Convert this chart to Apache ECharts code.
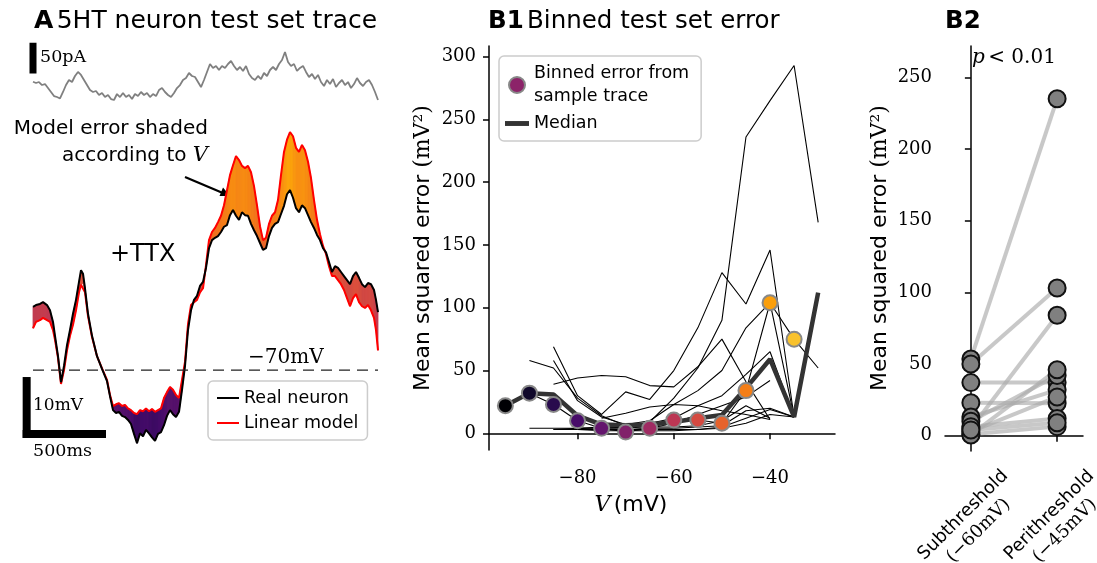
<!DOCTYPE html>
<html><head><meta charset="utf-8">
<script src="https://cdn.jsdelivr.net/npm/echarts@6/dist/echarts.min.js"></script>
<style>html,body{margin:0;padding:0;background:#fff}#c{width:1097px;height:563px}</style>
</head><body><div id="c"></div>
<script>
// ---------- Panel A data ----------
const timeMs = [0,18,42,60,84,102,120,132,150,168,186,204,222,240,258,276,288,300,312,330,354,384,414,444,462,
480,498,516,534,552,570,588,606,624,642,660,678,696,714,732,750,768,786,804,822,840,858,876,894,912,930,948,966,984,
1002,1020,1038,1056,1074,1092,1110,1128,1146,1164,1182,1200,1218,1236,1254,1272,1290,1308,1326,1344,1362,1380,1398,
1416,1434,1452,1470,1488,1506,1524,1542,1560,1578,1596,1614,1632,1650,1668,1686,1704,1722,1740,1758,1776,1794,1812,
1830,1848,1866,1884,1902,1920,1938,1956,1974,1992,2010,2028,2046,2058,2070];
const realV = [-59.1,-58.8,-58.6,-58.3,-58.8,-59.7,-61.7,-64.1,-67.6,-72.1,-69.3,-65.7,-63.1,-60.3,-57.9,-54.8,-52.8,-53.4,-55.9,-60.3,
-64.1,-67.6,-69.8,-71.9,-74.5,-76.9,-77.4,-77.2,-77.9,-78.1,-78.6,-79.3,-81.0,-82.6,-80.9,-81.4,-80.3,-80.9,-81.6,-82.2,
-81.0,-80.7,-79.5,-77.9,-76.9,-77.6,-78.1,-77.2,-73.4,-69.3,-63.1,-59.7,-57.9,-57.2,-55.5,-54.8,-52.4,-49.0,-47.6,-47.2,
-46.9,-46.2,-45.3,-45.0,-43.3,-42.4,-43.4,-44.1,-42.8,-43.3,-43.4,-44.8,-45.9,-46.9,-48.1,-49.3,-49.0,-46.9,-45.5,-44.8,
-44.5,-43.1,-41.7,-39.7,-39.0,-40.3,-42.1,-42.8,-41.6,-42.1,-43.3,-44.5,-45.5,-46.7,-47.6,-49.0,-49.7,-51.4,-53.1,-52.1,
-52.4,-53.1,-53.8,-54.5,-55.2,-53.8,-53.1,-54.1,-55.2,-55.7,-55.0,-55.2,-56.2,-57.9,-60.0];
const modelV = [-62.8,-61.7,-61.4,-61.0,-61.4,-61.7,-63.1,-64.8,-67.9,-72.4,-70.0,-66.6,-64.1,-62.2,-59.7,-56.6,-55.3,-55.0,-56.6,-60.7,
-64.3,-67.6,-69.7,-71.7,-74.3,-76.2,-75.9,-75.7,-76.2,-76.0,-76.6,-76.9,-77.4,-77.6,-76.9,-77.1,-76.6,-77.1,-76.7,-77.2,
-76.9,-76.6,-74.8,-73.8,-72.9,-73.4,-74.3,-74.8,-71.7,-68.6,-62.1,-58.8,-58.3,-57.9,-56.6,-55.9,-51.9,-47.6,-46.2,-45.5,
-44.5,-43.4,-41.6,-39.0,-36.4,-34.7,-33.1,-33.8,-34.8,-35.2,-34.8,-35.9,-38.3,-41.6,-45.2,-47.6,-47.2,-44.8,-43.4,-42.8,
-40.7,-36.4,-32.4,-30.3,-29.0,-29.7,-31.7,-32.4,-31.2,-32.1,-34.1,-36.9,-40.7,-44.1,-46.6,-48.6,-50.0,-52.1,-53.8,-53.8,
-54.5,-55.2,-56.2,-57.6,-59.0,-57.6,-56.9,-58.3,-59.0,-59.3,-58.8,-59.7,-61.0,-63.1,-66.6];
const currentT = [0,18,36,54,72,90,108,126,144,162,180,198,216,234,252,270,288,306,324,342,360,378,396,414,432,450,468,486,504,522,
540,558,576,594,612,630,648,666,684,702,720,738,756,774,792,810,828,846,864,882,900,918,936,954,972,990,1008,1026,1044,1062,
1080,1098,1116,1134,1152,1170,1188,1206,1224,1242,1260,1278,1296,1314,1332,1350,1368,1386,1404,1422,1440,1458,1476,1494,1512,
1530,1548,1566,1584,1602,1620,1638,1656,1674,1692,1710,1728,1746,1764,1782,1800,1818,1836,1854,1872,1890,1908,1926,1944,1962,
1980,1998,2016,2034,2052,2070];
const currentPA = [29.9,27.8,29.4,24.5,26.1,19.6,13.1,6.5,4.9,2.5,
13.1,24.5,32.7,29.4,39.2,45.8,40.9,32.7,24.5,16.3,
13.1,14.7,8.2,11.4,4.9,8.2,1.6,0,9.8,4.9,
11.4,4.9,8.2,1.6,9.8,6.5,13.1,8.2,11.4,4.9,
9.8,6.5,16.3,19.6,13.1,8.2,4.9,11.4,19.6,24.5,
32.7,35.9,44.1,39.2,37.6,29.4,21.2,32.7,45.8,58.8,
52.3,55.6,49.0,55.6,52.3,58.8,63.7,55.6,49.0,53.9,
47.4,55.6,42.5,35.9,32.7,39.2,34.3,44.1,39.2,49.0,
53.9,49.0,58.8,65.4,78.4,62.1,55.6,58.8,47.4,52.3,
55.6,45.8,37.6,42.5,34.3,40.9,29.4,22.9,32.7,26.1,
34.3,21.2,27.8,32.7,24.5,29.4,19.6,26.1,35.9,27.8,
22.9,29.4,32.7,24.5,13.1,0];
const restV = -70;
const scaleMV = 10, scaleMs = 500, scalePA = 50;

// ---------- Panel B1 data ----------
const binsV = [-95,-90,-85,-80,-75,-70,-65,-60,-55,-50,-45,-40,-35,-30];
const sampleErr = [22,32,23,10,4,1,4,10.6,10.6,8,34,104,75,52];
const medianErr = [22,32,31,14,7,6.5,7,9,12,14.5,36,59,13,112];
const cell1  = [null,null,null,4,4,5,9,28,52,90,236,265,293,168];
const cell2  = [null,null,69,30,15,33,27,50,84,128,103,146,13,null];
const cell3  = [null,null,39,44,46,45,38,37,53,75,41,11,null,null];
const cell4  = [null,58,52,28,14,6,5,5,6,10,22,12,null,null];
const cell5  = [null,null,58,26,13,7,10,23,34,50,84,104,13,null];
const cell6  = [null,null,null,null,4,4,8,12,22,30,47,65,13,null];
const cell7  = [null,null,null,3,3,3,4,8,15,22,29,42,null,null];
const cell8  = [null,null,null,null,12,16,21,23,22,18,15,11,null,null];
const cell9  = [null,4,4,4,3,3,3,3,3,4,8,15,13,null];
const cell10 = [null,null,3,3,2,2,2,2,3,5,12,19,13,null];
const cell11 = [null,null,3,4,5,5,4,4,5,6,18,20,13,null];
const b1XTicks = [-80,-60,-40];
const b1YTicks = [0,50,100,150,200,250,300];

// ---------- Panel B2 data ----------
const subErr  = [53.5,50,5,37,23,13,10,6.3,2.8,1,0.5,4];
const periErr = [235,103,84,37,22.6,32,42,12,27,6.3,46,9];
const b2Cats = ['Subthreshold','Perithreshold'];
const b2CatV = ['\u221260mV','\u221245mV'];
const b2YTicks = [0,50,100,150,200,250];

// ---------- colormap (style) ----------
const infernoStops = ['#000004','#160b39','#420a68','#6a176e','#932667','#bc3754','#dd513a','#f37819','#fca50a','#f6d746','#fcffa4'];
const cmin = -95, cmax = -25;
function hexRgb(h){return [parseInt(h.substr(1,2),16),parseInt(h.substr(3,2),16),parseInt(h.substr(5,2),16)];}
function inferno(v){
  let t=(v-cmin)/(cmax-cmin); t=Math.max(0,Math.min(1,t));
  const i=Math.min(9,Math.floor(t*10)), f=t*10-i;
  const a=hexRgb(infernoStops[i]), b=hexRgb(infernoStops[i+1]);
  return 'rgb('+a.map((x,k)=>Math.round(x+(b[k]-x)*f)).join(',')+')';
}

const SANS='DejaVu Sans', SERIF='DejaVu Serif';
const axisLineStyle={lineStyle:{color:'#000',width:1.5}};
const tickStyle={length:6,lineStyle:{color:'#000',width:1.5}};
const minus = v => (v<0?'\u2212':'')+Math.abs(v);

const cells=[cell1,cell2,cell3,cell4,cell5,cell6,cell7,cell8,cell9,cell10,cell11,sampleErr];
const series=[];
// A: current
series.push({type:'line',xAxisIndex:0,yAxisIndex:0,data:currentT.map((t,i)=>[t,currentPA[i]]),symbol:'none',
  lineStyle:{color:'#808080',width:1.8},silent:true});
series.push({type:'line',xAxisIndex:0,yAxisIndex:0,data:[[0,43.5],[0,43.5+scalePA]],symbol:'none',
  lineStyle:{color:'#000',width:7,cap:'butt'},silent:true});
// A: fill
series.push({type:'custom',xAxisIndex:1,yAxisIndex:1,silent:true,
  data:timeMs.slice(0,-1).map((t,i)=>[t,realV[i],modelV[i]]),encode:{x:0,y:1},
  renderItem:function(params,api){
    const i=params.dataIndex;
    const p1=api.coord([timeMs[i],realV[i]]),p2=api.coord([timeMs[i+1],realV[i+1]]);
    const p3=api.coord([timeMs[i+1],modelV[i+1]]),p4=api.coord([timeMs[i],modelV[i]]);
    const c=inferno((realV[i]+realV[i+1])/2);
    return {type:'polygon',shape:{points:[p1,p2,p3,p4]},style:{fill:c,stroke:c,lineWidth:0.8}};
  }});
series.push({type:'line',name:'Linear model',xAxisIndex:1,yAxisIndex:1,data:timeMs.map((t,i)=>[t,modelV[i]]),symbol:'none',
  lineStyle:{color:'#ff0000',width:2},itemStyle:{color:'#ff0000'}});
series.push({type:'line',name:'Real neuron',xAxisIndex:1,yAxisIndex:1,data:timeMs.map((t,i)=>[t,realV[i]]),symbol:'none',
  lineStyle:{color:'#000',width:2},itemStyle:{color:'#000'}});
series.push({type:'line',xAxisIndex:1,yAxisIndex:1,data:[[0,restV],[2070,restV]],symbol:'none',silent:true,
  lineStyle:{color:'#222',width:1.2,type:[11,7]}});
series.push({type:'line',xAxisIndex:1,yAxisIndex:1,data:[[-38,-81.7],[-38,-81.7+scaleMV+0.5]],symbol:'none',silent:true,
  lineStyle:{color:'#000',width:8,cap:'butt'}});
series.push({type:'line',xAxisIndex:1,yAxisIndex:1,data:[[-62,-81.0],[-62+scaleMs,-81.0]],symbol:'none',silent:true,
  lineStyle:{color:'#000',width:8,cap:'butt'}});
// B1 thin lines
cells.forEach(c=>{
  series.push({type:'line',xAxisIndex:2,yAxisIndex:2,data:binsV.map((v,i)=>[v,c[i]]),symbol:'none',connectNulls:false,silent:true,
    lineStyle:{color:'#000',width:1.1}});
});
series.push({type:'line',name:'Median',xAxisIndex:2,yAxisIndex:2,data:binsV.map((v,i)=>[v,medianErr[i]]),symbol:'none',
  lineStyle:{color:'#333',width:4.5},itemStyle:{color:'#333'},z:3});
series.push({type:'scatter',name:'Binned error from\nsample trace',xAxisIndex:2,yAxisIndex:2,symbolSize:15,z:4,
  itemStyle:{color:'#8c2369',borderColor:'#888',borderWidth:2,opacity:1},
  data:binsV.slice(0,13).map((v,i)=>({value:[v,sampleErr[i]],itemStyle:{color:inferno(v)}}))});
// B2
subErr.forEach((s,i)=>{
  series.push({type:'line',xAxisIndex:3,yAxisIndex:3,data:[[0,s],[1,periErr[i]]],symbol:'none',silent:true,
    lineStyle:{color:'rgba(170,170,170,0.65)',width:4}});
});
series.push({type:'scatter',xAxisIndex:3,yAxisIndex:3,symbolSize:17,z:4,
  itemStyle:{color:'#808080',borderColor:'#111',borderWidth:2,opacity:1},
  data:subErr.map(v=>[0,v]).concat(periErr.map(v=>[1,v]))});

const thinIcon='path://M0,0L22,0L22,2L0,2Z';
const thickIcon='path://M0,0L22,0L22,4.5L0,4.5Z';
const option={
  animation:false,
  backgroundColor:'#fff',
  grid:[
    {left:22,top:40,width:356,height:70,outerBoundsMode:'none',containLabel:false},
    {left:22,top:120,width:356,height:340,outerBoundsMode:'none',containLabel:false},
    {left:489,top:46,width:346,height:404,outerBoundsMode:'none',containLabel:false},
    {left:945,top:46,width:138,height:405,outerBoundsMode:'none',containLabel:false}
  ],
  xAxis:[
    {gridIndex:0,type:'value',min:-66,max:2070,show:false},
    {gridIndex:1,type:'value',min:-66,max:2070,show:false},
    {gridIndex:2,type:'value',min:-98.4,max:-26.5,splitLine:{show:false},axisLine:axisLineStyle,
      axisTick:Object.assign({customValues:b1XTicks},tickStyle),
      axisLabel:{customValues:b1XTicks,formatter:minus,fontFamily:SERIF,fontSize:18,color:'#000',margin:19}},
    {gridIndex:3,type:'value',min:-0.3,max:1.3,splitLine:{show:false},axisLine:axisLineStyle,
      axisTick:Object.assign({customValues:[0,1]},tickStyle),
      axisLabel:{customValues:[0,1],rotate:45,align:'center',verticalAlign:'middle',margin:72,color:'#000',
        formatter:v=>{const i=v<0.5?0:1;return '{s|'+b2Cats[i]+'}\n{m|('+b2CatV[i]+')}';},
        rich:{s:{fontFamily:SANS,fontSize:18,align:'center',lineHeight:22},m:{fontFamily:SERIF,fontSize:18,align:'center',lineHeight:22}}}}
  ],
  yAxis:[
    {gridIndex:0,type:'value',min:-16.3,max:98,show:false},
    {gridIndex:1,type:'value',min:-85.5,max:-26.9,show:false},
    {gridIndex:2,type:'value',min:-13.3,max:308.5,splitLine:{show:false},axisLine:axisLineStyle,
      axisTick:Object.assign({customValues:b1YTicks},tickStyle),
      axisLabel:{customValues:b1YTicks,fontFamily:SERIF,fontSize:18,color:'#000',margin:13}},
    {gridIndex:3,type:'value',min:-10.7,max:271.8,splitLine:{show:false},axisLine:axisLineStyle,
      axisTick:Object.assign({customValues:b2YTicks},tickStyle),
      axisLabel:{customValues:b2YTicks,fontFamily:SERIF,fontSize:18,color:'#000',margin:13}}
  ],
  legend:[
    {data:[{name:'Real neuron',icon:thinIcon},{name:'Linear model',icon:thinIcon}],orient:'vertical',left:208,top:381,itemWidth:22,itemHeight:14,itemGap:7,
      padding:[8,9,8,9],backgroundColor:'#fff',borderColor:'#ccc',borderWidth:1.5,borderRadius:5,
      textStyle:{fontFamily:SANS,fontSize:17.5,color:'#000'},selectedMode:false},
    {data:[{name:'Binned error from\nsample trace'},{name:'Median',icon:thickIcon}],orient:'vertical',left:499,top:56,itemWidth:24,itemHeight:16,itemGap:4,
      padding:[6,12,6,6],backgroundColor:'#fff',borderColor:'#ccc',borderWidth:1.5,borderRadius:5,
      textStyle:{fontFamily:SANS,fontSize:17.5,color:'#000',lineHeight:23},selectedMode:false}
  ],
  graphic:[
    {type:'text',x:34,y:21,style:{text:'{b|A} {n|5HT neuron test set trace}',verticalAlign:'middle',rich:{b:{fontFamily:SANS,fontWeight:'bold',fontSize:25},n:{fontFamily:SANS,fontSize:25}}}},
    {type:'text',x:488,y:22,style:{text:'{b|B1} {n|Binned test set error}',verticalAlign:'middle',rich:{b:{fontFamily:SANS,fontWeight:'bold',fontSize:24.5},n:{fontFamily:SANS,fontSize:24.5}}}},
    {type:'text',x:945,y:22,style:{text:'{b|B2}',verticalAlign:'middle',rich:{b:{fontFamily:SANS,fontWeight:'bold',fontSize:24.5}}}},
    {type:'text',x:1014,y:58,style:{text:'{i|p} {s|< 0.01}',align:'center',verticalAlign:'middle',rich:{i:{fontFamily:SERIF,fontStyle:'italic',fontSize:20},s:{fontFamily:SERIF,fontSize:20}}}},
    {type:'text',x:40,y:57,style:{text:'50pA',font:'17.5px "DejaVu Serif"',fill:'#000',verticalAlign:'middle'}},
    {type:'text',x:33,y:406,style:{text:'10mV',font:'17px "DejaVu Serif"',fill:'#000',verticalAlign:'middle'}},
    {type:'text',x:33,y:451,style:{text:'500ms',font:'17.5px "DejaVu Serif"',fill:'#000',verticalAlign:'middle'}},
    {type:'text',x:248,y:358,style:{text:'\u221270mV',font:'20px "DejaVu Serif"',fill:'#000',verticalAlign:'middle'}},
    {type:'text',x:110,y:255,style:{text:'{p|+}{t|TTX}',verticalAlign:'middle',rich:{p:{fontFamily:SERIF,fontSize:24},t:{fontFamily:SANS,fontSize:24}}}},
    {type:'text',x:208,y:129,style:{text:'Model error shaded',font:'20px "DejaVu Sans"',fill:'#000',align:'right',verticalAlign:'middle'}},
    {type:'text',x:208,y:156,style:{text:'{s|according to }{i|V}',align:'right',verticalAlign:'middle',rich:{s:{fontFamily:SANS,fontSize:20},i:{fontFamily:SERIF,fontStyle:'italic',fontSize:21}}}},
    {type:'line',shape:{x1:185,y1:177,x2:224,y2:193.5},style:{stroke:'#000',lineWidth:2.2}},
    {type:'polygon',shape:{points:[[230,196],[219.5,196],[223,187.5]]},style:{fill:'#000'}},
    {type:'text',x:423,y:248,rotation:Math.PI/2,style:{text:'{s|Mean squared error }{m|(mV\u00b2)}',align:'center',verticalAlign:'middle',rich:{s:{fontFamily:SANS,fontSize:22},m:{fontFamily:SERIF,fontSize:22}}}},
    {type:'text',x:880,y:248,rotation:Math.PI/2,style:{text:'{s|Mean squared error }{m|(mV\u00b2)}',align:'center',verticalAlign:'middle',rich:{s:{fontFamily:SANS,fontSize:22},m:{fontFamily:SERIF,fontSize:22}}}},
    {type:'text',x:631,y:505,style:{text:'{i|V} {s|(mV)}',align:'center',verticalAlign:'middle',rich:{i:{fontFamily:SERIF,fontStyle:'italic',fontSize:22},s:{fontFamily:SANS,fontSize:22}}}}
  ],
  series:series
};
const chart=echarts.init(document.getElementById('c'),null,{renderer:'canvas'});
chart.setOption(option);
</script></body></html>
